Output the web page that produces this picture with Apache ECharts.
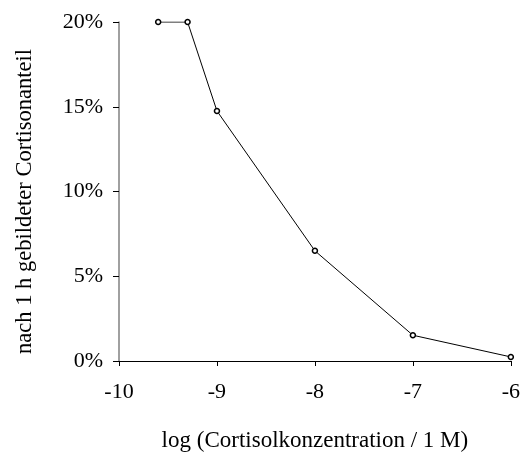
<!DOCTYPE html>
<html><head><meta charset="utf-8">
<script src="https://cdn.jsdelivr.net/npm/echarts@6/dist/echarts.min.js"></script>
<style>html,body{margin:0;padding:0;background:#fff}#c{width:523px;height:457px}</style>
</head><body><div id="c"></div>
<script>
const logConc = [-9.6, -9.3, -9, -8, -7, -6];
const cortisonPct = [20, 20, 14.75, 6.5, 1.52, 0.24];
const xLabel = 'log (Cortisolkonzentration / 1 M)';
const yLabel = 'nach 1 h gebildeter Cortisonanteil';
const font = 'Liberation Serif';
const fs = 22;
const chart = echarts.init(document.getElementById('c'), null, {renderer: 'canvas'});
chart.setOption({
  animation: false,
  grid: {left: 119, right: 10, top: 22, bottom: 96},
  xAxis: {
    type: 'value', min: -10, max: -6, interval: 1,
    name: xLabel, nameLocation: 'middle', nameGap: 68,
    nameTextStyle: {fontFamily: font, fontSize: 23, color: '#000'},
    axisLine: {onZero: false, lineStyle: {color: '#000', width: 1}},
    axisTick: {show: true, length: 5, lineStyle: {color: '#000'}},
    axisLabel: {fontFamily: font, fontSize: fs, color: '#000', margin: 20},
    splitLine: {show: false}
  },
  yAxis: {
    type: 'value', min: 0, max: 20, interval: 5,
    name: yLabel, nameLocation: 'middle', nameGap: 82,
    nameTextStyle: {fontFamily: font, fontSize: 22.5, color: '#000', padding: [0, 20, 0, 0]},
    axisLine: {show: true, lineStyle: {color: '#808080', width: 1.5}},
    axisTick: {show: true, length: 6, lineStyle: {color: '#000'}},
    axisLabel: {fontFamily: font, fontSize: fs, color: '#000', margin: 16, formatter: v => v + '%'},
    splitLine: {show: false}
  },
  series: [{
    type: 'line',
    data: logConc.map((x, i) => [x, cortisonPct[i]]),
    symbol: 'circle', symbolSize: 5,
    itemStyle: {color: '#fff', borderColor: '#000', borderWidth: 1.5},
    lineStyle: {color: '#000', width: 1}
  }]
});
</script></body></html>
